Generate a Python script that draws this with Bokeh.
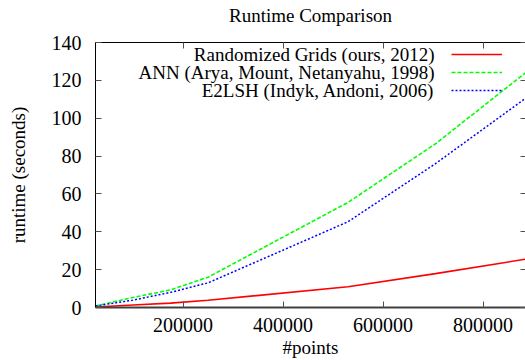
from bokeh.plotting import figure
from bokeh.models import (Range1d, FixedTicker, LinearAxis, Label, Legend,
                          LegendItem, BasicTickFormatter, CustomJSTickFormatter)
from bokeh.embed import file_html
from bokeh.resources import INLINE

# ---- data ----
n_points = [25000, 100000, 175000, 250000, 530000, 705000, 885000]
grids = [0.3, 1.3, 2.3, 3.8, 11.0, 17.9, 25.5]
ann = [0.8, 5.3, 9.3, 16.0, 55.5, 86.5, 124.0]
e2lsh = [0.8, 3.9, 8.0, 13.0, 45.3, 76.0, 110.5]
series_names = ["Randomized Grids (ours, 2012)",
                "ANN (Arya, Mount, Netanyahu, 1998)",
                "E2LSH (Indyk, Andoni, 2006)"]
x_ticks = [200000, 400000, 600000, 800000]
y_ticks = [0, 20, 40, 60, 80, 100, 120, 140]

FONT = "Liberation Serif"

p = figure(width=525, height=360, output_backend="svg", toolbar_location=None,
           x_range=Range1d(25000, 885000), y_range=Range1d(0, 140),
           title="Runtime Comparison",
           min_border_left=95, min_border_right=0, min_border_top=41,
           min_border_bottom=53)
p.outline_line_color = None
p.grid.visible = False
p.title.align = "center"
p.title.text_font = FONT
p.title.text_font_size = "19px"
p.title.text_font_style = "normal"
p.title.text_color = "black"
p.title.standoff = 4

# axes
xa = p.xaxis[0]
ya = p.yaxis[0]
xa.ticker = FixedTicker(ticks=x_ticks)
ya.ticker = FixedTicker(ticks=y_ticks)
xa.formatter = BasicTickFormatter(use_scientific=False)
xa.axis_label = "#points"
ya.axis_label = "runtime (seconds)"
for ax in (xa, ya):
    ax.major_label_text_font = FONT
    ax.major_label_text_font_size = "20px"
    ax.major_label_text_color = "black"
    ax.axis_label_text_font = FONT
    ax.axis_label_text_font_size = "19px"
    ax.axis_label_text_font_style = "normal"
    ax.axis_label_text_color = "black"
    ax.major_tick_in = 6
    ax.major_tick_out = 0
    ax.minor_tick_line_color = None
    ax.major_tick_line_color = "#505050"
ya.axis_line_color = "black"
ya.axis_line_width = 1
xa.axis_line_color = "#404040"
xa.axis_line_width = 2
xa.major_label_standoff = 10
xa.axis_label_standoff = 2
ya.major_label_standoff = 14
ya.axis_label_standoff = 20

# mirror border with inward ticks (no labels), as in the reference
top = LinearAxis(ticker=FixedTicker(ticks=x_ticks),
                 formatter=CustomJSTickFormatter(code="return ' '"),
                 major_tick_in=6, major_tick_out=0, major_label_standoff=0,
                 major_label_text_font_size="11px",
                 minor_tick_line_color=None, axis_line_color="black",
                 major_tick_line_color="#505050")
p.add_layout(top, "above")
right = LinearAxis(ticker=FixedTicker(ticks=y_ticks),
                   formatter=CustomJSTickFormatter(code="return ''"),
                   major_tick_in=5, major_tick_out=0, major_label_standoff=0,
                   minor_tick_line_color=None, axis_line_color=None,
                   major_tick_line_color="#505050")
p.add_layout(right, "right")

# series
r1 = p.line(n_points, grids, line_color="#ff0000", line_width=1.6)
r2 = p.line(n_points, ann, line_color="#00ff00", line_width=1.6, line_dash="4 2")
r3 = p.line(n_points, e2lsh, line_color="#0000ff", line_width=1.5, line_dash="2 2")

# legend: samples on the right, labels right-aligned on the left
legend = Legend(items=[LegendItem(label=" ", renderers=[r]) for r in (r1, r2, r3)],
                location=(356, 208), glyph_width=51, glyph_height=18,
                label_height=18, label_width=0, label_standoff=0, padding=0,
                margin=0, spacing=0, border_line_color=None,
                background_fill_alpha=0, label_text_font_size="1px")
p.add_layout(legend)
for i, name in enumerate(series_names):
    p.add_layout(Label(x=339, y=253 - 18 * i, x_units="screen", y_units="screen",
                       text=name, text_align="right", text_baseline="middle",
                       text_font=FONT, text_font_size="19px", text_color="black"))

open("out.html", "w").write(file_html(p, INLINE))
